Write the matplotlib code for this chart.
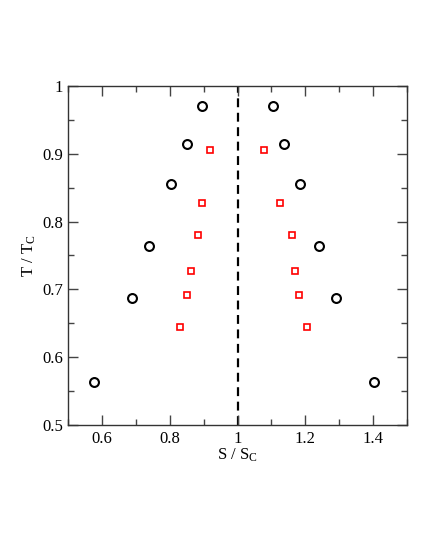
import matplotlib
matplotlib.use("Agg")
import matplotlib.pyplot as plt
from matplotlib.ticker import MultipleLocator, FuncFormatter

plt.rcParams['font.family'] = ['Liberation Serif', 'DejaVu Serif']
plt.rcParams['mathtext.fontset'] = 'custom'
plt.rcParams['mathtext.rm'] = 'Liberation Serif'
plt.rcParams['mathtext.it'] = 'Liberation Serif:italic'

circle_T = [0.9705, 0.9145, 0.8556, 0.7637, 0.688, 0.5634]
circle_S_low = [0.894, 0.850, 0.804, 0.739, 0.687, 0.576]
circle_S_high = [1.106, 1.138, 1.185, 1.240, 1.291, 1.403]

square_T = [0.906, 0.8266, 0.7795, 0.7269, 0.692, 0.645]
square_S_low = [0.919, 0.896, 0.882, 0.861, 0.850, 0.831]
square_S_high = [1.077, 1.124, 1.162, 1.169, 1.182, 1.206]

critical_S = 1.0

fig = plt.figure(figsize=(4.22, 5.47), dpi=100)
ax = fig.add_axes([0.162, 0.223, 0.802, 0.620])

ax.axvline(critical_S, color='black', linestyle=(0, (4, 2.5)), linewidth=1.6, zorder=1)

for xs in (circle_S_low, circle_S_high):
    ax.plot(xs, circle_T, linestyle='none', marker='o', markersize=6.4,
            markerfacecolor='none', markeredgecolor='black', markeredgewidth=1.5)
for xs in (square_S_low, square_S_high):
    ax.plot(xs, square_T, linestyle='none', marker='s', markersize=5.0,
            markerfacecolor='none', markeredgecolor='red', markeredgewidth=1.2)

ax.set_xlim(0.5, 1.5)
ax.set_ylim(0.5, 1.0)
ax.xaxis.set_major_locator(MultipleLocator(0.2))
ax.xaxis.set_minor_locator(MultipleLocator(0.1))
ax.yaxis.set_major_locator(MultipleLocator(0.1))
ax.yaxis.set_minor_locator(MultipleLocator(0.05))
fmt = FuncFormatter(lambda v, p: f"{v:g}")
ax.xaxis.set_major_formatter(fmt)
ax.yaxis.set_major_formatter(fmt)

ax.tick_params(which='both', direction='in', top=True, right=True, labelsize=12,
               color='#444444')
ax.tick_params(which='major', length=7.5, width=1.0, pad=4)
ax.tick_params(which='minor', length=4.5, width=1.0)
for s in ax.spines.values():
    s.set_linewidth(1.0)
    s.set_color('#333333')

ax.set_xlabel(r'S / S$_\mathrm{C}$', fontsize=12, labelpad=0)
ax.set_ylabel(r'T / T$_\mathrm{C}$', fontsize=12, labelpad=3)

fig.savefig('out.png', dpi=100)
